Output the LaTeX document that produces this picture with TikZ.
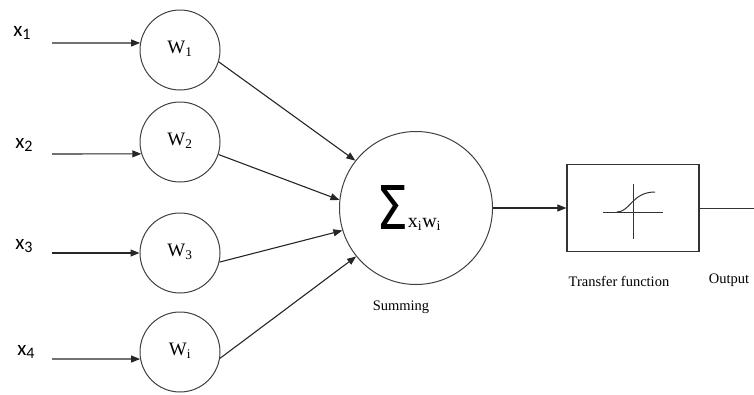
\documentclass[tikz,border=0pt]{standalone}
\usepackage{fontspec}
\setmainfont{Liberation Serif}
\newfontfamily\inputfont{Carlito}
\newfontfamily\sumfont{DejaVu Sans}
\usetikzlibrary{arrows.meta,positioning,calc}

\tikzset{
  weight/.style={circle,draw=black!75,line width=1pt,minimum size=80pt,inner sep=0pt,
    font=\fontsize{19}{19}\selectfont},
  summer/.style={circle,draw=black!75,line width=1pt,minimum size=153pt,inner sep=0pt},
  transfer/.style={rectangle,draw=black!80,line width=1.2pt,minimum width=132pt,minimum height=87pt},
  link/.style={draw=black!85,line width=1.1pt,-{Triangle[length=9pt,width=7pt]}},
  wire/.style={draw=black!80,line width=1pt},
  inlabel/.style={font=\inputfont\fontsize{21}{21}\selectfont},
  caption/.style={font=\fontsize{14.5}{14.5}\selectfont}
}

% weight labels sit a bit above the middle of their circles
\newcommand{\wlabel}[1]{\raisebox{5pt}{W\textsubscript{#1}}}
% input index, dropped below the line
\newcommand{\inidx}[1]{\raisebox{-3pt}{\fontsize{16}{16}\selectfont #1}}

\begin{document}
\begin{tikzpicture}[x=1pt,y=-1pt]
    \useasboundingbox (0,0) rectangle (754,394);

    % inputs
    \node[inlabel] (x1) at (22,33) {x\inidx{1}};
    \node[inlabel] (x2) at (24,145) {x\inidx{2}};
    \node[inlabel] (x3) at (24,246) {x\inidx{3}};
    \node[inlabel] (x4) at (26,352) {x\inidx{4}};
    \coordinate (in1) at (52,43);
    \coordinate (in2) at (52,154);
    \coordinate (in3) at (52,253);
    \coordinate (in4) at (52,359);

    % weights
    \node[weight] (w1) at (180,50) {\wlabel{1}};
    \node[weight] (w2) at (180,142) {\wlabel{2}};
    \node[weight] (w3) at (180,253) {\wlabel{3}};
    \node[weight] (w4) at (180,352) {\wlabel{i}};

    \draw[link] (in1) -- (w1.170);
    \draw[link] (in2) -- (w2.197);
    \draw[link] (in3) -- (w3.west);
    \draw[link] (in4) -- (w4.190);

    % summing junction
    \node[summer] (sum) at (416,208) {\hspace*{-14pt}\raisebox{-2pt}{\resizebox{32pt}{44pt}{\sumfont Σ}}\hspace{-1pt}{\fontsize{20}{20}\selectfont x\textsubscript{i}w\textsubscript{i}}};
    \node[caption] (sumlbl) at (401,307) {Summing};

    \draw[link] (w1.-17) -- (sum.142);
    \draw[link] (w2.-18) -- (sum.174);
    \draw[link] (w3.-13) -- (sum.197);
    \draw[link] (w4.-9) -- (sum.219);

    % transfer function block
    \node[transfer] (tf) at (633,208) {};
    \draw[wire] ($(tf.center)+(-30,4)$) -- ($(tf.center)+(30,4)$);
    \draw[wire] ($(tf.center)+(0,-24)$) -- ($(tf.center)+(0,31)$);
    \draw[wire] ($(tf.center)+(-16,4)$) .. controls ($(tf.center)+(-3,4)$) and ($(tf.center)+(-1,-16)$) .. ($(tf.center)+(22,-16)$);
    \node[caption] (tflbl) at (619,281) {Transfer function};

    \draw[link] (sum.east) -- (tf.west);

    % output
    \coordinate (out) at (754,208);
    \draw[wire] (tf.east) -- (out);
    \node[caption] (outlbl) at (729,280) {Output};
\end{tikzpicture}
\end{document}
